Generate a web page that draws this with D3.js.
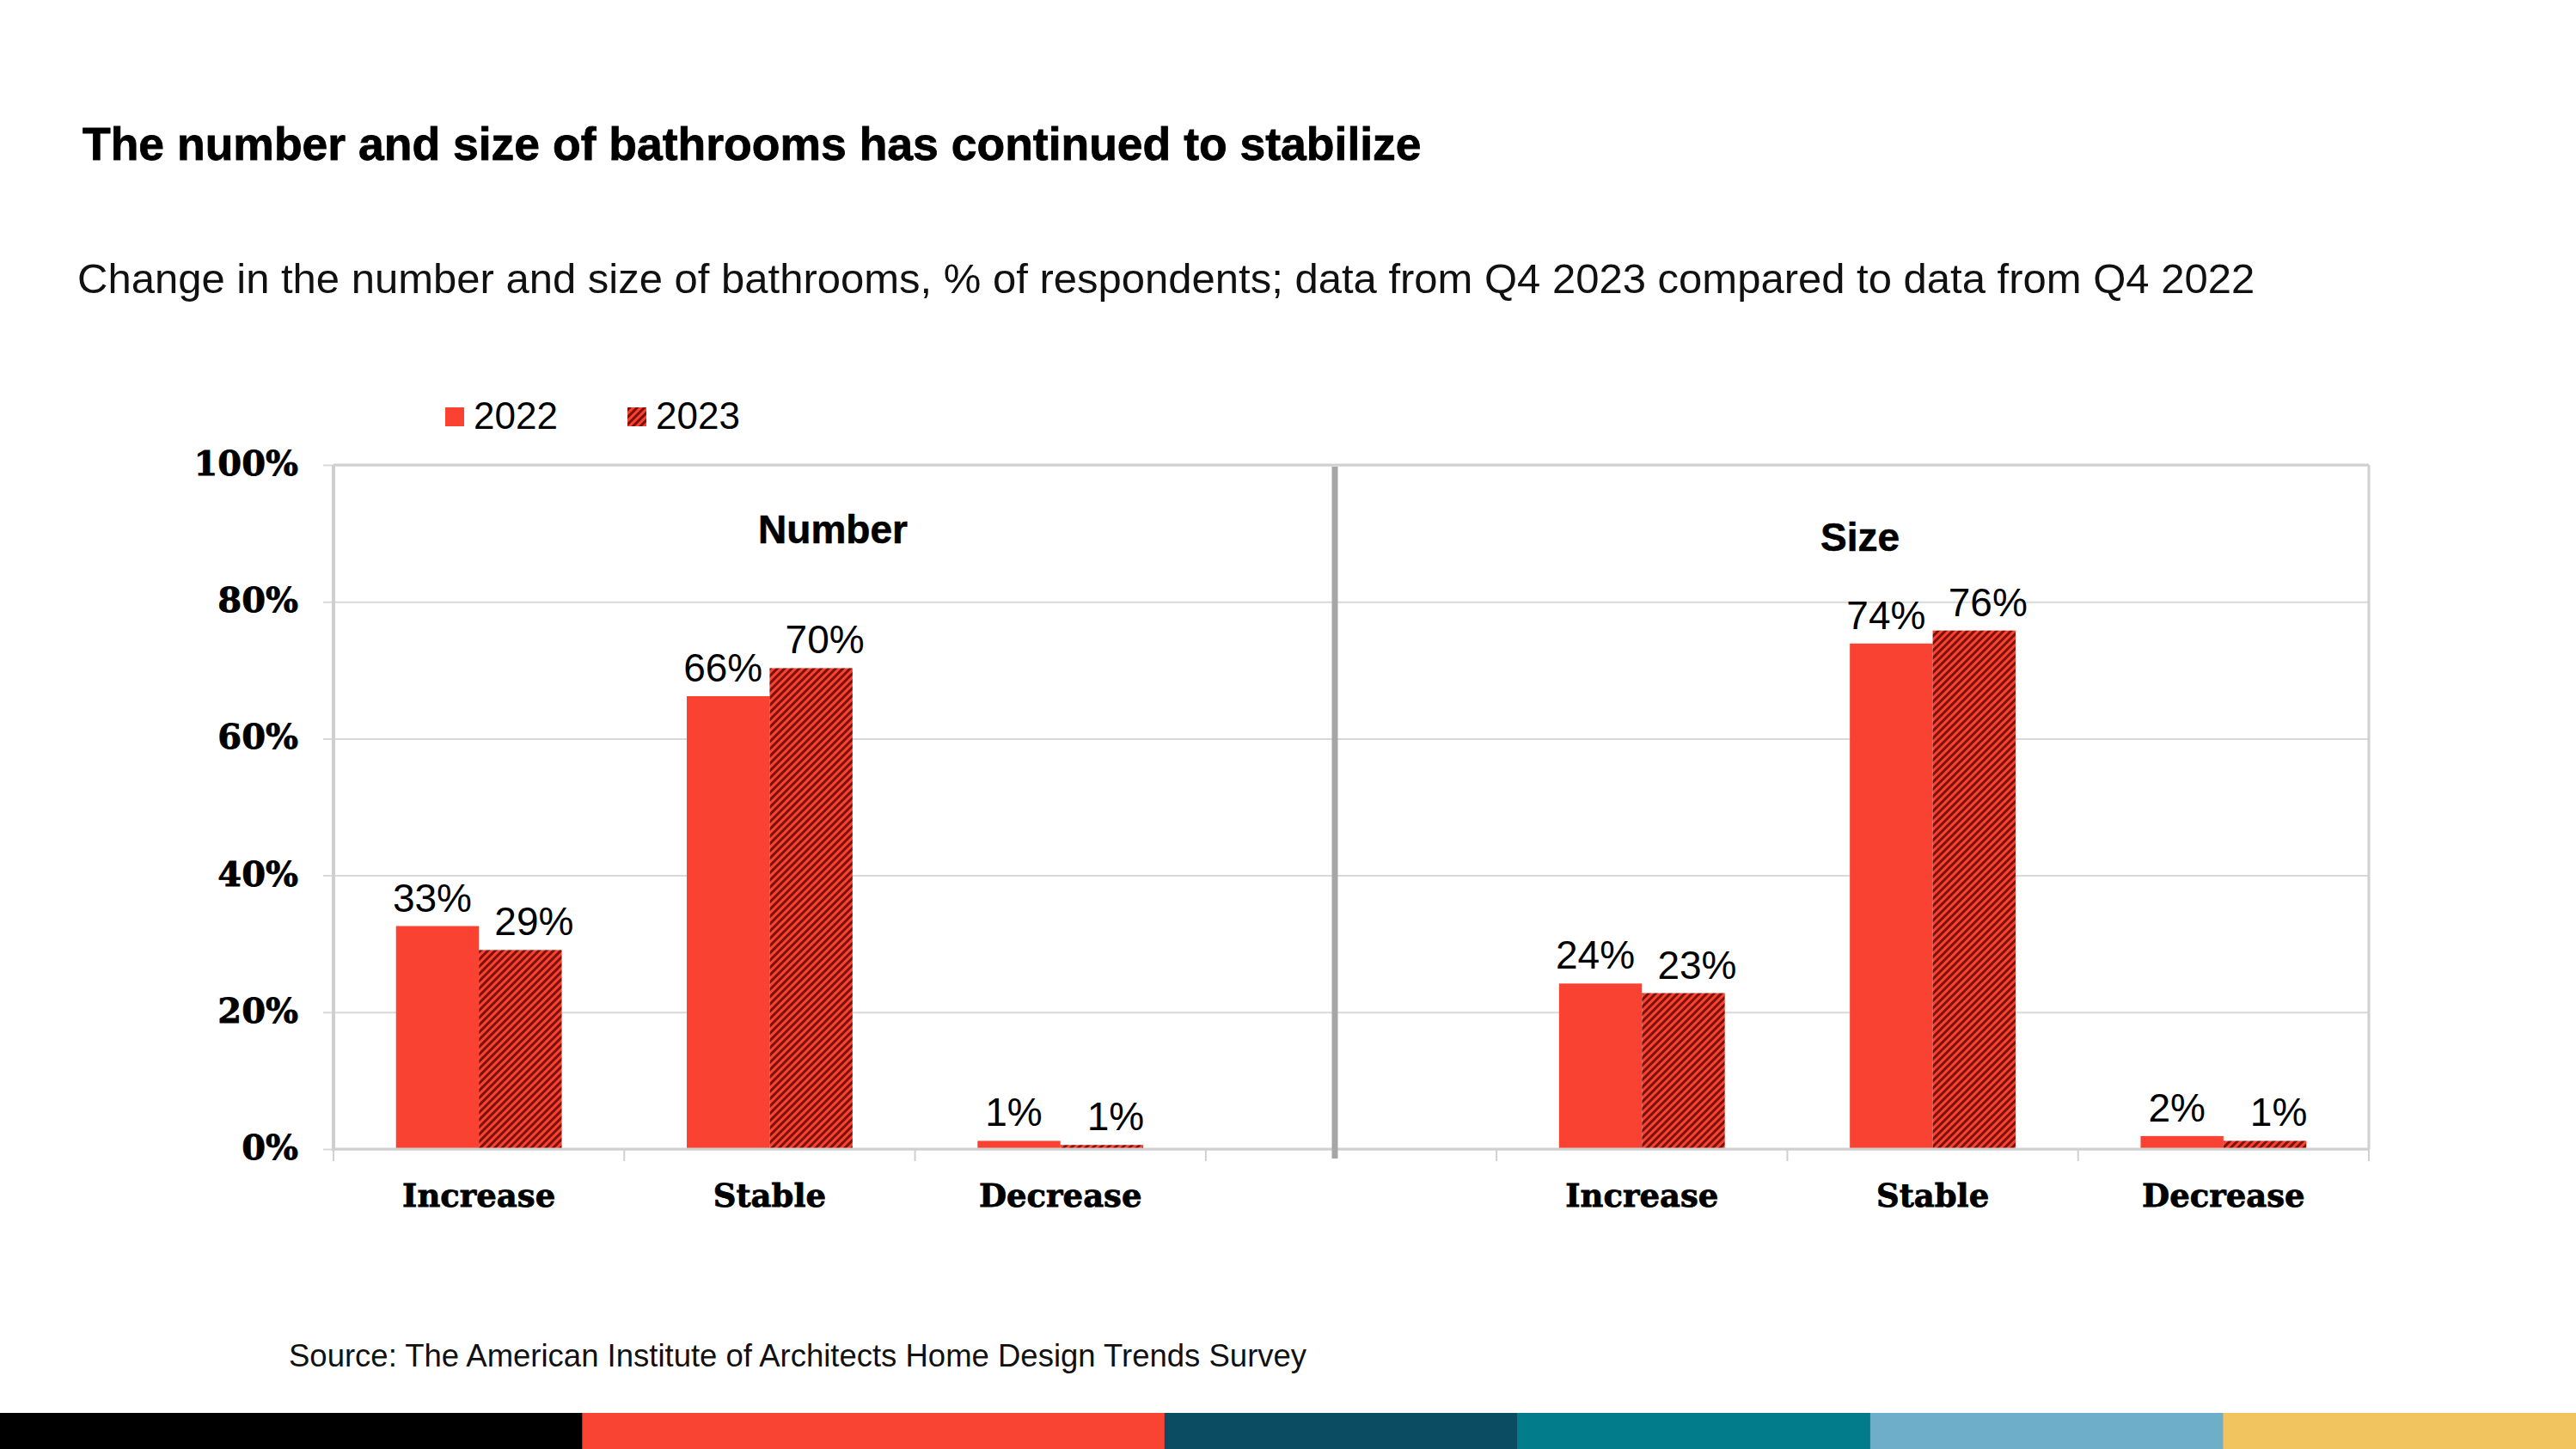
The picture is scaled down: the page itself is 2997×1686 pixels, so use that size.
<!DOCTYPE html>
<html>
<head>
<meta charset="utf-8">
<script src="https://cdn.jsdelivr.net/npm/d3@7"></script>
<style>
  html, body { margin: 0; padding: 0; background: #fff; }
  svg { display: block; }
</style>
</head>
<body>
<script>
// ---- data ----
const categories = ["Increase", "Stable", "Decrease"];
const panels = ["Number", "Size"];
const series = ["2022", "2023"];
const number2022 = [32.6, 66.2, 1.2];
const number2023 = [29.1, 70.3, 0.6];
const size2022 = [24.2, 73.9, 1.9];
const size2023 = [22.8, 75.8, 1.2];
const yTicks = [0, 20, 40, 60, 80, 100];
const title = "The number and size of bathrooms has continued to stabilize";
const subtitle = "Change in the number and size of bathrooms, % of respondents; data from Q4 2023 compared to data from Q4 2022";
const source = "Source: The American Institute of Architects Home Design Trends Survey";
const stripeColors = ["#000000", "#F94433", "#0B4C63", "#027B8A", "#6EAEC9", "#F2C45F"];
const stripeWeights = [1.65, 1.65, 1, 1, 1, 1];

const W = 2997, H = 1686;
const RED = "#FA4233", DARK = "#7A120A";
const sansFont = "'Liberation Sans', Arial, sans-serif";
const serifFont = "'DejaVu Serif', serif";

const svg = d3.select("body").append("svg").attr("width", W).attr("height", H);

const defs = svg.append("defs");
const pat = defs.append("pattern").attr("id", "hatch").attr("patternUnits", "userSpaceOnUse")
  .attr("width", 6).attr("height", 6).attr("patternTransform", "rotate(45)");
pat.append("rect").attr("width", 6).attr("height", 6).attr("fill", RED);
pat.append("rect").attr("x", 0).attr("width", 3).attr("height", 6).attr("fill", DARK);

// Title etc
svg.append("text").attr("x", 96).attr("y", 186).text(title)
  .attr("font-family", sansFont).attr("font-weight", "bold").attr("font-size", 53.5).attr("fill", "#000")
  .attr("stroke", "#000").attr("stroke-width", 0.8);
svg.append("text").attr("x", 90).attr("y", 341).text(subtitle)
  .attr("font-family", sansFont).attr("font-size", 49).attr("fill", "#111");
svg.append("text").attr("x", 336).attr("y", 1590).text(source)
  .attr("font-family", sansFont).attr("font-size", 36.5).attr("fill", "#111");

// Legend
const legend = svg.append("g");
const legX = [518, 730];
series.forEach((s, i) => {
  legend.append("rect").attr("x", legX[i]).attr("y", 474).attr("width", 22).attr("height", 22)
    .attr("fill", i === 0 ? RED : "url(#hatch)");
  legend.append("text").attr("x", legX[i] + 33).attr("y", 499).text(s)
    .attr("font-family", sansFont).attr("font-size", 44).attr("fill", "#000");
});

// Plot
const L = 388, R = 2756, T = 541, B = 1337;
const slots = [];
panels.forEach((p, pi) => {
  categories.forEach(c => slots.push(p + "|" + c));
  if (pi === 0) slots.push("gap");
});
const x = d3.scaleBand().domain(slots).range([L, R]);
const y = d3.scaleLinear().domain([0, 100]).range([B, T]);
const bw = x.bandwidth();
const x1 = d3.scaleBand().domain(series).range([bw * 0.215, bw * 0.785]).padding(0);

// gridlines
const yAxis = d3.axisLeft(y).tickValues(yTicks).tickSize(-(R - L) - 12).tickFormat("");
const gy = svg.append("g").attr("transform", `translate(${R},0)`).call(yAxis);
gy.select(".domain").remove();
gy.selectAll(".tick line").attr("stroke", "#d9d9d9").attr("stroke-width", 2)
  .attr("x1", 0).attr("x2", -(R - L) - 12);

// y labels
svg.append("g").selectAll("text").data(yTicks).join("text")
  .attr("x", 347).attr("y", d => y(d) + 12).attr("text-anchor", "end")
  .text(d => d + "%")
  .attr("font-family", serifFont).attr("font-weight", "bold").attr("font-size", 40).attr("fill", "#000")
  .attr("stroke", "#000").attr("stroke-width", 0.8);

// borders
svg.append("line").attr("x1", L).attr("x2", R).attr("y1", T).attr("y2", T).attr("stroke", "#d0d0d0").attr("stroke-width", 3);
svg.append("line").attr("x1", R).attr("x2", R).attr("y1", T).attr("y2", B).attr("stroke", "#d0d0d0").attr("stroke-width", 3);
svg.append("line").attr("x1", L).attr("x2", L).attr("y1", T).attr("y2", B + 2).attr("stroke", "#cfcfcf").attr("stroke-width", 4);

// x axis ticks at band boundaries
const bounds = slots.map(s => x(s)).concat([R]);
svg.append("g").selectAll("line").data(bounds).join("line")
  .attr("x1", d => d).attr("x2", d => d).attr("y1", B).attr("y2", B + 14)
  .attr("stroke", "#d0d0d0").attr("stroke-width", 2);

// bars
const dataRows = [];
const vals = { "Number": [number2022, number2023], "Size": [size2022, size2023] };
panels.forEach(p => {
  categories.forEach((c, ci) => {
    series.forEach((s, si) => {
      dataRows.push({ slot: p + "|" + c, s, si, v: vals[p][si][ci] });
    });
  });
});
svg.append("g").selectAll("rect").data(dataRows).join("rect")
  .attr("x", d => x(d.slot) + x1(d.s))
  .attr("width", x1.bandwidth())
  .attr("y", d => y(d.v))
  .attr("height", d => y(0) - y(d.v))
  .attr("fill", d => d.si === 0 ? RED : "url(#hatch)");

// bottom axis line
svg.append("line").attr("x1", L).attr("x2", R).attr("y1", B).attr("y2", B).attr("stroke", "#d0d0d0").attr("stroke-width", 3);

// value labels (pushed slightly apart within each pair)
const labelShift = [-6, 16];
svg.append("g").selectAll("text").data(dataRows).join("text")
  .attr("x", d => x(d.slot) + x1(d.s) + x1.bandwidth() / 2 + labelShift[d.si])
  .attr("y", d => y(d.v) - 17)
  .attr("text-anchor", "middle")
  .text(d => Math.round(d.v) + "%")
  .attr("font-family", sansFont).attr("font-size", 46).attr("fill", "#000");

// category labels
svg.append("g").selectAll("text").data(slots.filter(s => s !== "gap")).join("text")
  .attr("x", d => x(d) + bw / 2).attr("y", 1404).attr("text-anchor", "middle")
  .text(d => d.split("|")[1])
  .attr("font-family", serifFont).attr("font-weight", "bold").attr("font-size", 37).attr("fill", "#000")
  .attr("stroke", "#000").attr("stroke-width", 0.8);

// divider
svg.append("line").attr("x1", 1553).attr("x2", 1553).attr("y1", T + 2).attr("y2", 1348)
  .attr("stroke", "#a6a6a6").attr("stroke-width", 7);

// panel titles
const panelTitleX = [969, 2164], panelTitleY = [632, 641];
panels.forEach((p, i) => {
  svg.append("text").attr("x", panelTitleX[i]).attr("y", panelTitleY[i]).attr("text-anchor", "middle")
    .text(p).attr("font-family", sansFont).attr("font-weight", "bold").attr("font-size", 46).attr("fill", "#000")
    .attr("stroke", "#000").attr("stroke-width", 0.6);
});

// bottom color stripe
const totalW = d3.sum(stripeWeights);
const sx = d3.scaleLinear().domain([0, totalW]).range([0, W]);
let acc = 0;
const stripes = stripeWeights.map((w, i) => { const o = { x0: acc, x1: acc + w, c: stripeColors[i] }; acc += w; return o; });
svg.append("g").selectAll("rect").data(stripes).join("rect")
  .attr("x", d => sx(d.x0)).attr("width", d => sx(d.x1) - sx(d.x0) + 0.5)
  .attr("y", 1644).attr("height", 42).attr("fill", d => d.c);
</script>
</body>
</html>
